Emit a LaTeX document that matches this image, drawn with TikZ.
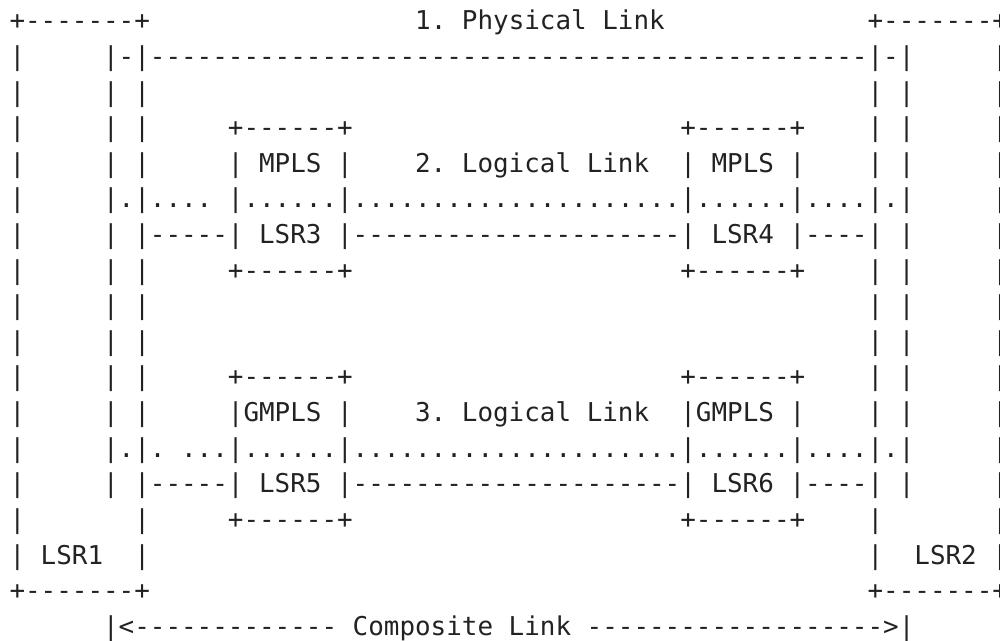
\documentclass[tikz,border=0pt]{standalone}
\usepackage{fontspec}
\setmonofont{DejaVu Sans Mono}
\definecolor{ink}{HTML}{222222}
\newcommand{\artfont}{\ttfamily\fontsize{14.75pt}{20pt}\selectfont}
\tikzset{artline/.style={anchor=base west, inner sep=0pt, outer sep=0pt, font=\artfont, text=ink}}
\begin{document}
\begin{tikzpicture}[x=0.02cm, y=0.02cm]

    % page frame (1000 x 641)
    \useasboundingbox (0,0) rectangle (1000,-641);
    \clip (0,0) rectangle (1000,-641);

    % LSR1 / LSR2 boxes and the physical link
    \node[artline] (r1) at (9.5,-30)    {+-------+~~~~~~~~~~~~~~~~~1.~Physical~Link~~~~~~~~~~~~~+-------+};
    \node[artline] (r2) at (9.5,-65.6)  {|~~~~~|-|----------------------------------------------|-|~~~~~|};
    \node[artline] (r3) at (9.5,-101.2) {|~~~~~|~|~~~~~~~~~~~~~~~~~~~~~~~~~~~~~~~~~~~~~~~~~~~~~~|~|~~~~~|};

    % MPLS LSR3 -- LSR4
    \node[artline] (r4) at (9.5,-136.8) {|~~~~~|~|~~~~~+------+~~~~~~~~~~~~~~~~~~~~~+------+~~~~|~|~~~~~|};
    \node[artline] (r5) at (9.5,-172.4) {|~~~~~|~|~~~~~|~MPLS~|~~~~2.~Logical~Link~~|~MPLS~|~~~~|~|~~~~~|};
    \node[artline] (r6) at (9.5,-208)   {|~~~~~|.|....~|......|.....................|......|....|.|~~~~~|};
    \node[artline] (r7) at (9.5,-243.6) {|~~~~~|~|-----|~LSR3~|---------------------|~LSR4~|----|~|~~~~~|};
    \node[artline] (r8) at (9.5,-279.2) {|~~~~~|~|~~~~~+------+~~~~~~~~~~~~~~~~~~~~~+------+~~~~|~|~~~~~|};
    \node[artline] (r9) at (9.5,-314.8) {|~~~~~|~|~~~~~~~~~~~~~~~~~~~~~~~~~~~~~~~~~~~~~~~~~~~~~~|~|~~~~~|};
    \node[artline] (r10) at (9.5,-350.4) {|~~~~~|~|~~~~~~~~~~~~~~~~~~~~~~~~~~~~~~~~~~~~~~~~~~~~~~|~|~~~~~|};

    % GMPLS LSR5 -- LSR6
    \node[artline] (r11) at (9.5,-386)   {|~~~~~|~|~~~~~+------+~~~~~~~~~~~~~~~~~~~~~+------+~~~~|~|~~~~~|};
    \node[artline] (r12) at (9.5,-421.6) {|~~~~~|~|~~~~~|GMPLS~|~~~~3.~Logical~Link~~|GMPLS~|~~~~|~|~~~~~|};
    \node[artline] (r13) at (9.5,-457.2) {|~~~~~|.|.~...|......|.....................|......|....|.|~~~~~|};
    \node[artline] (r14) at (9.5,-492.8) {|~~~~~|~|-----|~LSR5~|---------------------|~LSR6~|----|~|~~~~~|};
    \node[artline] (r15) at (9.5,-528.4) {|~~~~~~~|~~~~~+------+~~~~~~~~~~~~~~~~~~~~~+------+~~~~|~~~~~~~|};
    \node[artline] (r16) at (9.5,-564)   {|~LSR1~~|~~~~~~~~~~~~~~~~~~~~~~~~~~~~~~~~~~~~~~~~~~~~~~|~~LSR2~|};
    \node[artline] (r17) at (9.5,-599.6) {+-------+~~~~~~~~~~~~~~~~~~~~~~~~~~~~~~~~~~~~~~~~~~~~~~+-------+};

    % composite link
    \node[artline] (r18) at (9.5,-635.2) {~~~~~~|<-------------~Composite~Link~------------------->|};

\end{tikzpicture}
\end{document}
